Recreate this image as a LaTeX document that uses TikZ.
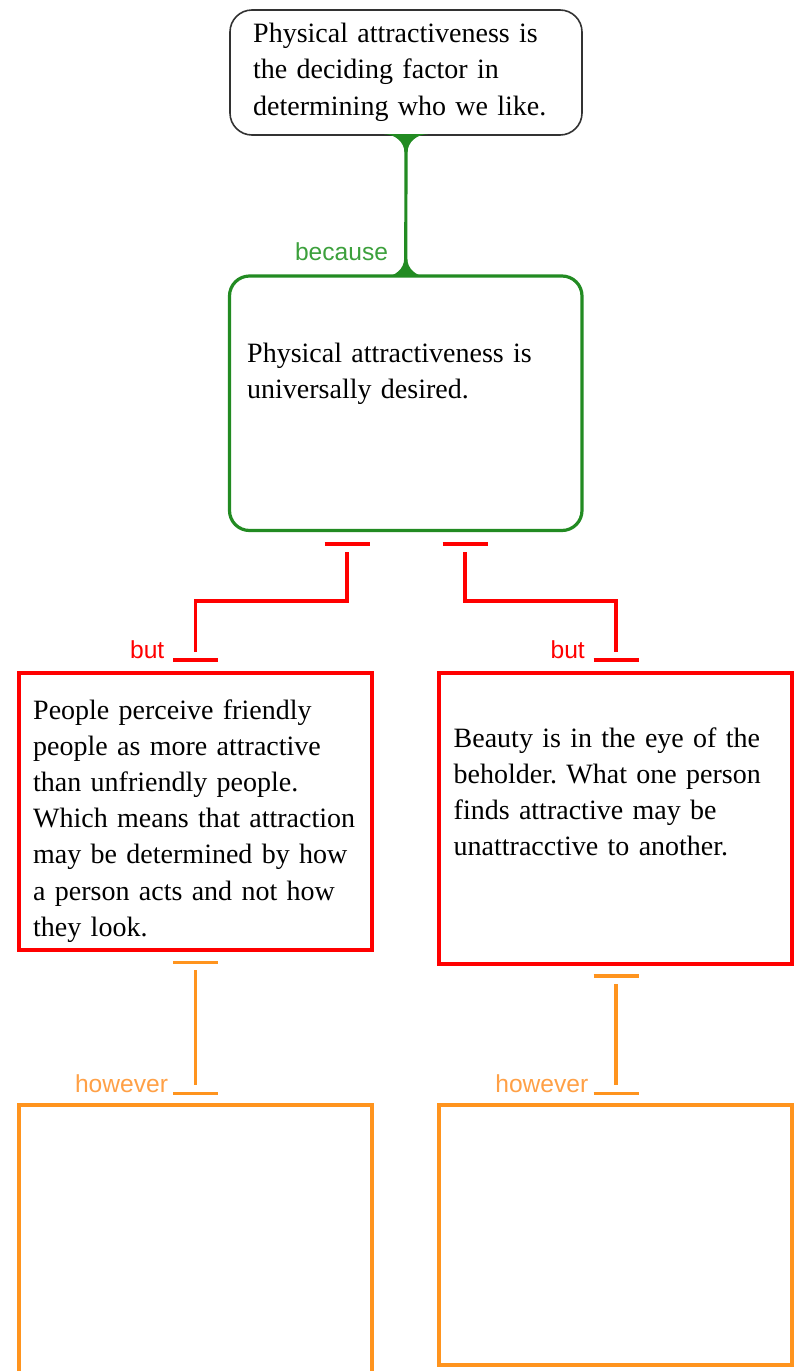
\documentclass[tikz,border=0pt]{standalone}
\usepackage{fontspec}
\setmainfont{Liberation Serif}
\newfontfamily\labelfont{Liberation Sans}
\usetikzlibrary{calc}
\frenchspacing

\definecolor{claimgreen}{RGB}{34,139,34}
\definecolor{becausegreen}{RGB}{60,160,60}
\definecolor{butred}{RGB}{255,0,0}
\definecolor{howorange}{RGB}{255,148,30}
\definecolor{howlabel}{RGB}{255,160,70}
\definecolor{framegray}{RGB}{50,50,50}

\begin{document}
\begin{tikzpicture}[x=1pt,y=-1pt,
  box/.style={draw, rectangle, anchor=north west, inner sep=0pt, outer sep=0pt},
  claim/.style={box, framegray, line width=1.6pt, rounded corners=22pt},
  reason/.style={box, claimgreen, line width=3.2pt, rounded corners=20pt},
  objection/.style={box, butred, line width=3.5pt},
  rebuttal/.style={box, howorange, line width=3.5pt},
  body/.style={anchor=base west, inner sep=0pt, text width=345pt, align=left,
    font=\fontsize{28}{36.2}\selectfont, text=black},
  tag/.style={anchor=base east, inner sep=0pt, font=\labelfont\fontsize{24.6}{28}\selectfont},
  link/.style={line width=3.5pt, line cap=butt},
]
\useasboundingbox (0,0) rectangle (794,1371);

% boxes
\node[claim, minimum width=352pt, minimum height=125pt] (claim) at (230,10) {};
\node[reason, minimum width=352.5pt, minimum height=254.5pt] (reason) at (229.5,276) {};
\node[objection, minimum width=353pt, minimum height=277pt] (objL) at (19,673) {};
\node[objection, minimum width=353pt, minimum height=291pt] (objR) at (439,673) {};
\node[rebuttal, minimum width=353pt, minimum height=290pt] (rebL) at (19,1105) {};
\node[rebuttal, minimum width=353pt, minimum height=260pt] (rebR) at (439,1105) {};

% box texts
\node[body] (claimtext) at ($(claim.north west)+(23,32.7)$)
  {Physical attractiveness is\\the deciding factor in\\determining who we like.};
\node[body, font=\fontsize{28}{35.6}\selectfont] (reasontext) at ($(reason.north west)+(17.5,86.7)$)
  {Physical attractiveness is\\universally desired.};
\node[body] (objLtext) at ($(objL.north west)+(14,46)$)
  {People perceive friendly\\people as more attractive\\than unfriendly people.\\Which means that attraction\\may be determined by how\\a person acts and not how\\they look.};
\node[body, font=\fontsize{28}{35.9}\selectfont] (objRtext) at ($(objR.north west)+(14.5,74.3)$)
  {Beauty is in the eye of the\\beholder. What one person\\finds attractive may be\\unattracctive to another.};

% "because" link: straight line with filleted ends
\draw[link, line width=3.2pt, claimgreen] (claim.south) -- (reason.north);
\fill[claimgreen] ($(claim.south)+(-22,-0.8)$) .. controls ($(claim.south)+(-10.5,-0.8)$) and ($(claim.south)+(-1.6,7.5)$) .. ($(claim.south)+(-1.6,17)$)
  -- ($(claim.south)+(1.6,17)$) .. controls ($(claim.south)+(1.6,7.5)$) and ($(claim.south)+(10.5,-0.8)$) .. ($(claim.south)+(22,-0.8)$) -- cycle;
\fill[claimgreen] ($(reason.north)+(-22,0.8)$) .. controls ($(reason.north)+(-10.5,0.8)$) and ($(reason.north)+(-1.6,-7.5)$) .. ($(reason.north)+(-1.6,-17)$)
  -- ($(reason.north)+(1.6,-17)$) .. controls ($(reason.north)+(1.6,-7.5)$) and ($(reason.north)+(10.5,0.8)$) .. ($(reason.north)+(22,0.8)$) -- cycle;
\node[tag, text=becausegreen] (because) at ($(reason.north)+(-17.5,-16)$) {because};

% "but" links
\coordinate (butLtop) at ($(reason.south west)+(117.5,13.5)$);
\coordinate (butLbot) at ($(objL.north west)+(176.5,-13)$);
\coordinate (butRtop) at ($(reason.south east)+(-117,13.5)$);
\coordinate (butRbot) at ($(objR.north west)+(177,-13)$);
\begin{scope}[link, butred]
  \draw ($(butLtop)+(-22.5,0)$) -- ($(butLtop)+(22.5,0)$);
  \draw ($(butLtop)+(0,8)$) -- ($(butLtop)+(0,57)$) -| ($(butLbot)+(0,-8)$);
  \draw ($(butLbot)+(-22.5,0)$) -- ($(butLbot)+(22.5,0)$);
  \draw ($(butRtop)+(-22.5,0)$) -- ($(butRtop)+(22.5,0)$);
  \draw ($(butRtop)+(0,8)$) -- ($(butRtop)+(0,57)$) -| ($(butRbot)+(0,-8)$);
  \draw ($(butRbot)+(-22.5,0)$) -- ($(butRbot)+(22.5,0)$);
\end{scope}
\node[tag, text=butred] (butL) at ($(butLbot)+(-31,-2)$) {but};
\node[tag, text=butred] (butR) at ($(butRbot)+(-31,-2)$) {but};

% "however" links
\coordinate (howLtop) at ($(objL.south west)+(176.7,12.3)$);
\coordinate (howLbot) at ($(rebL.north west)+(176.7,-11.7)$);
\coordinate (howRtop) at ($(objR.south west)+(177,12)$);
\coordinate (howRbot) at ($(rebR.north west)+(177,-11.7)$);
\begin{scope}[link, howorange]
  \draw ($(howLtop)+(-22.5,0)$) -- ($(howLtop)+(22.5,0)$);
  \draw ($(howLtop)+(0,8)$) -- ($(howLbot)+(0,-8)$);
  \draw ($(howLbot)+(-22.5,0)$) -- ($(howLbot)+(22.5,0)$);
  \draw ($(howRtop)+(-22.5,0)$) -- ($(howRtop)+(22.5,0)$);
  \draw ($(howRtop)+(0,8)$) -- ($(howRbot)+(0,-8)$);
  \draw ($(howRbot)+(-22.5,0)$) -- ($(howRbot)+(22.5,0)$);
\end{scope}
\node[tag, text=howlabel] (howL) at ($(howLbot)+(-27.5,-0.6)$) {however};
\node[tag, text=howlabel] (howR) at ($(howRbot)+(-27.5,-0.6)$) {however};
\end{tikzpicture}
\end{document}
